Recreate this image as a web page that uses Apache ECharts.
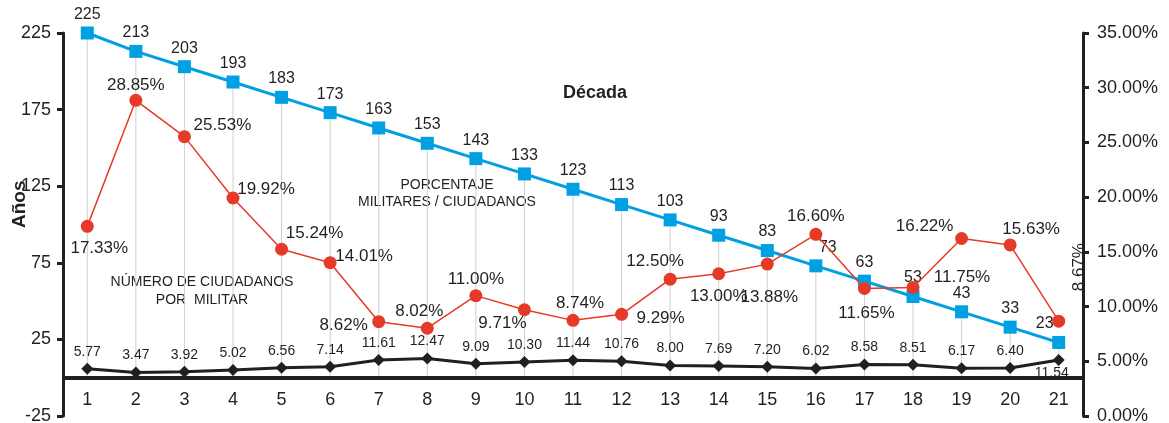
<!DOCTYPE html>
<html>
<head>
<meta charset="utf-8">
<script src="https://cdn.jsdelivr.net/npm/echarts@6/dist/echarts.min.js"></script>
<style>
    html, body {margin: 0; padding: 0; background: #fff;}
    #echartdiv {width: 1169px; height: 423px;}
</style>
</head>
<body>
<div id="echartdiv"></div>
<script>
var pName = ['1', '2', '3', '4', '5', '6', '7', '8', '9', '10', '11', '12', '13', '14', '15', '16', '17', '18', '19', '20', '21'];
// años (eje izquierdo)
var pAnios = [225, 213, 203, 193, 183, 173, 163, 153, 143, 133, 123, 113, 103, 93, 83, 73, 63, 53, 43, 33, 23];
// número de ciudadanos por militar (eje izquierdo)
var pCiudadanos = [5.77, 3.47, 3.92, 5.02, 6.56, 7.14, 11.61, 12.47, 9.09, 10.30, 11.44, 10.76, 8.00, 7.69, 7.20, 6.02, 8.58, 8.51, 6.17, 6.40, 11.54];
// porcentaje militares / ciudadanos (eje derecho, %)
var pPorcentaje = [17.33, 28.85, 25.53, 19.92, 15.24, 14.01, 8.62, 8.02, 11.00, 9.71, 8.74, 9.29, 12.50, 13.00, 13.88, 16.60, 11.65, 11.75, 16.22, 15.63, 8.67];
var pLeftTicks = [-25, 25, 75, 125, 175, 225];

// desplazamiento de etiquetas de la serie roja (solo estilo)
var redOffsets = [[12, 22], [0, -15], [38, -11], [33, -9], [33, -16], [34, -6], [-35, 4], [-8, -17], [0, -16], [-22, 14],
    [7, -17], [39, 4], [-15, -18], [0, 23], [2, 33], [0, -18], [2, 25], [49, -10], [-37, -12], [21, -16], [54, 21]];

var dom = document.getElementById("echartdiv");
var myChart = echarts.init(dom);

var redData = pPorcentaje.map(function (v, i) {
    var lbl = {offset: redOffsets[i]};
    if (i == pPorcentaje.length - 1) lbl.rotate = 90;
    return {value: v, label: lbl};
});
var blueData = pAnios.map(function (v, i) {
    var d = {value: v};
    if (i == 15) d.label = {offset: [12, 0]};
    if (i == 20) d.label = {offset: [-14, 0]};
    return d;
});
var blackData = pCiudadanos.map(function (v, i) {
    var d = {value: v};
    if (i == 20) d.label = {position: 'bottom', offset: [-7, -4]};
    return d;
});

var txt = '#231f20';
var option = {
    animation: false,
    textStyle: {fontFamily: 'Liberation Sans, Arial, sans-serif'},
    grid: {left: 63, right: 86, top: 33, bottom: 7, containLabel: false, outerBoundsMode: 'none'},
    xAxis: {
        type: 'category',
        data: pName,
        axisLine: {show: false, onZero: false},
        axisTick: {show: false},
        axisLabel: {color: txt, fontSize: 18, inside: true, margin: 7},
        splitLine: {show: false}
    },
    yAxis: [
        {
            type: 'value',
            min: -25,
            max: 225,
            position: 'left',
            axisLine: {show: true, onZero: false, lineStyle: {color: txt, width: 3}},
            axisTick: {show: true, length: 6, customValues: pLeftTicks, lineStyle: {color: txt, width: 3}},
            axisLabel: {color: txt, fontSize: 18, margin: 12, customValues: pLeftTicks},
            splitLine: {show: false}
        },
        {
            type: 'value',
            min: 0,
            max: 35,
            interval: 5,
            position: 'right',
            axisLine: {show: true, onZero: false, lineStyle: {color: txt, width: 3}},
            axisTick: {show: true, length: 6, lineStyle: {color: txt, width: 3}},
            axisLabel: {
                color: txt, fontSize: 18, margin: 14,
                formatter: function (v) {return v.toFixed(2) + '%';}
            },
            splitLine: {show: false}
        }
    ],
    graphic: [
        {type: 'text', x: 10, y: 228, rotation: Math.PI / 2,
            style: {text: 'Años', fill: txt, font: 'bold 19px "Liberation Sans", Arial'}},
        {type: 'text', x: 595, y: 93,
            style: {text: 'Década', fill: txt, align: 'center', verticalAlign: 'middle',
                font: 'bold 18px "Liberation Sans", Arial'}},
        {type: 'text', x: 447, y: 194,
            style: {text: 'PORCENTAJE\nMILITARES / CIUDADANOS', fill: txt, align: 'center', verticalAlign: 'middle',
                font: '14px "Liberation Sans", Arial', lineHeight: 17}},
        {type: 'text', x: 202, y: 291,
            style: {text: 'NÚMERO DE CIUDADANOS\nPOR  MILITAR', fill: txt, align: 'center', verticalAlign: 'middle',
                font: '14px "Liberation Sans", Arial', lineHeight: 18}}
    ],
    series: [
        {
            name: 'guia',
            type: 'bar',
            yAxisIndex: 0,
            data: pAnios,
            barWidth: 1,
            itemStyle: {color: '#cfcfcf'},
            silent: true,
            z: 1,
            markLine: {
                silent: true,
                symbol: 'none',
                label: {show: false},
                lineStyle: {color: txt, width: 4, type: 'solid'},
                data: [{yAxis: 0}]
            }
        },
        {
            name: 'Número de ciudadanos por militar',
            type: 'line',
            yAxisIndex: 0,
            data: blackData,
            symbol: 'diamond',
            symbolSize: 12,
            lineStyle: {color: txt, width: 3},
            itemStyle: {color: txt},
            label: {
                show: true, position: 'top', distance: 4, color: txt, fontSize: 14,
                formatter: function (p) {return p.value.toFixed(2);}
            },
            z: 3
        },
        {
            name: 'Años',
            type: 'line',
            yAxisIndex: 0,
            data: blueData,
            symbol: 'rect',
            symbolSize: 13,
            lineStyle: {color: '#00a0e2', width: 3},
            itemStyle: {color: '#00a0e2'},
            label: {show: true, position: 'top', distance: 4, color: txt, fontSize: 16},
            z: 4
        },
        {
            name: 'Porcentaje militares / ciudadanos',
            type: 'line',
            yAxisIndex: 1,
            data: redData,
            symbol: 'circle',
            symbolSize: 13,
            lineStyle: {color: '#e63a28', width: 1.5},
            itemStyle: {color: '#e63a28'},
            label: {
                show: true, position: 'inside', color: txt, fontSize: 17,
                formatter: function (p) {return p.value.toFixed(2) + '%';}
            },
            z: 5
        }
    ]
};

myChart.setOption(option);
</script>
</body>
</html>
